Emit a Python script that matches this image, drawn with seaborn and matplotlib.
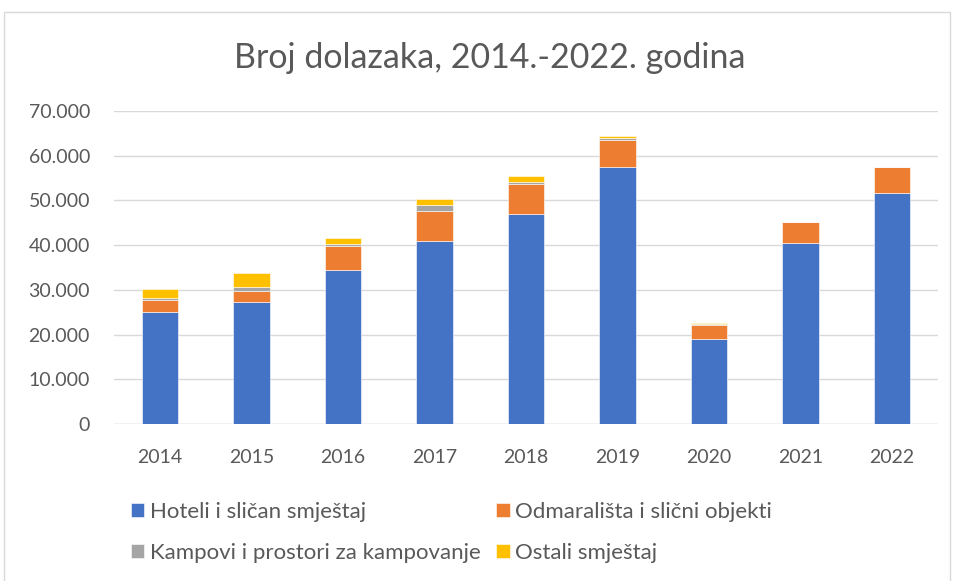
import matplotlib.pyplot as plt
import matplotlib.patches as mpatches
import matplotlib.ticker as mticker
import seaborn as sns
import numpy as np

# data
godine = ["2014", "2015", "2016", "2017", "2018", "2019", "2020", "2021", "2022"]
hoteli = [25100, 27300, 34400, 40950, 47000, 57550, 19100, 40400, 51600]
odmaralista = [2650, 2450, 5300, 6750, 6750, 6000, 3050, 4800, 5950]
kampovi = [350, 800, 500, 1200, 450, 500, 250, 0, 0]
ostali = [2000, 3200, 1500, 1350, 1300, 400, 250, 0, 0]

serije = [
    ("Hoteli i sličan smještaj", hoteli, "#4472C4"),
    ("Odmarališta i slični objekti", odmaralista, "#ED7D31"),
    ("Kampovi i prostori za kampovanje", kampovi, "#A5A5A5"),
    ("Ostali smještaj", ostali, "#FFC000"),
]

sns.set_style("white")
plt.rcParams['font.family'] = ['Lato', 'DejaVu Sans']
siva = "#595959"

fig = plt.figure(figsize=(9.54, 5.81), dpi=100)
ax = fig.add_axes([0.1198, 0.2702, 0.8632, 0.5388])

#stack the series one on another
dno = np.zeros(len(godine))
for naziv, vrijednosti, boja in serije:
    sns.barplot(x=godine, y=vrijednosti, bottom=dno, color=boja, saturation=1, width=0.4,
                label=naziv, edgecolor="white", linewidth=0.4, ax=ax, zorder=3)
    dno = dno + np.array(vrijednosti)

ax.set_ylim(0, 70000)
ax.set_xlim(-0.5, len(godine) - 0.5)
ax.yaxis.set_major_locator(mticker.MultipleLocator(10000))
ax.yaxis.set_major_formatter(mticker.FuncFormatter(lambda v, p: f"{int(v):,}".replace(",", ".")))
ax.grid(axis="y", color="#D9D9D9", linewidth=1, zorder=0)
for s in ax.spines.values():
    s.set_visible(False)
ax.axhline(0, color="#D9D9D9", linewidth=1, zorder=1)
ax.tick_params(axis="both", length=0, labelsize=14, labelcolor=siva)
ax.tick_params(axis="y", pad=17.5)
ax.tick_params(axis="x", pad=18)
ax.set_xlabel("")
ax.set_ylabel("")

fig.text(0.513, 0.90, "Broj dolazaka, 2014.-2022. godina", ha="center", va="center",
         fontsize=24.5, color=siva)

#legend filled row by row like the Excel layout
h, l = ax.get_legend_handles_labels()
if ax.legend_:
    ax.legend_.remove()
red = [0, 2, 1, 3]
fig.legend([h[i] for i in red], [l[i] for i in red], ncol=2, loc="upper left",
           bbox_to_anchor=(0.128, 0.151), frameon=False, fontsize=16,
           labelcolor=siva, handlelength=0.6, handleheight=0.6, handletextpad=0.25,
           columnspacing=0.7, labelspacing=0.95, borderaxespad=0)

fig.add_artist(mpatches.Rectangle((4 / 954, -0.01), 946 / 954, 1 - 12 / 581 + 0.01,
                                  transform=fig.transFigure, fill=False,
                                  edgecolor="#D9D9D9", linewidth=1))

fig.savefig("out.png", dpi=100)
